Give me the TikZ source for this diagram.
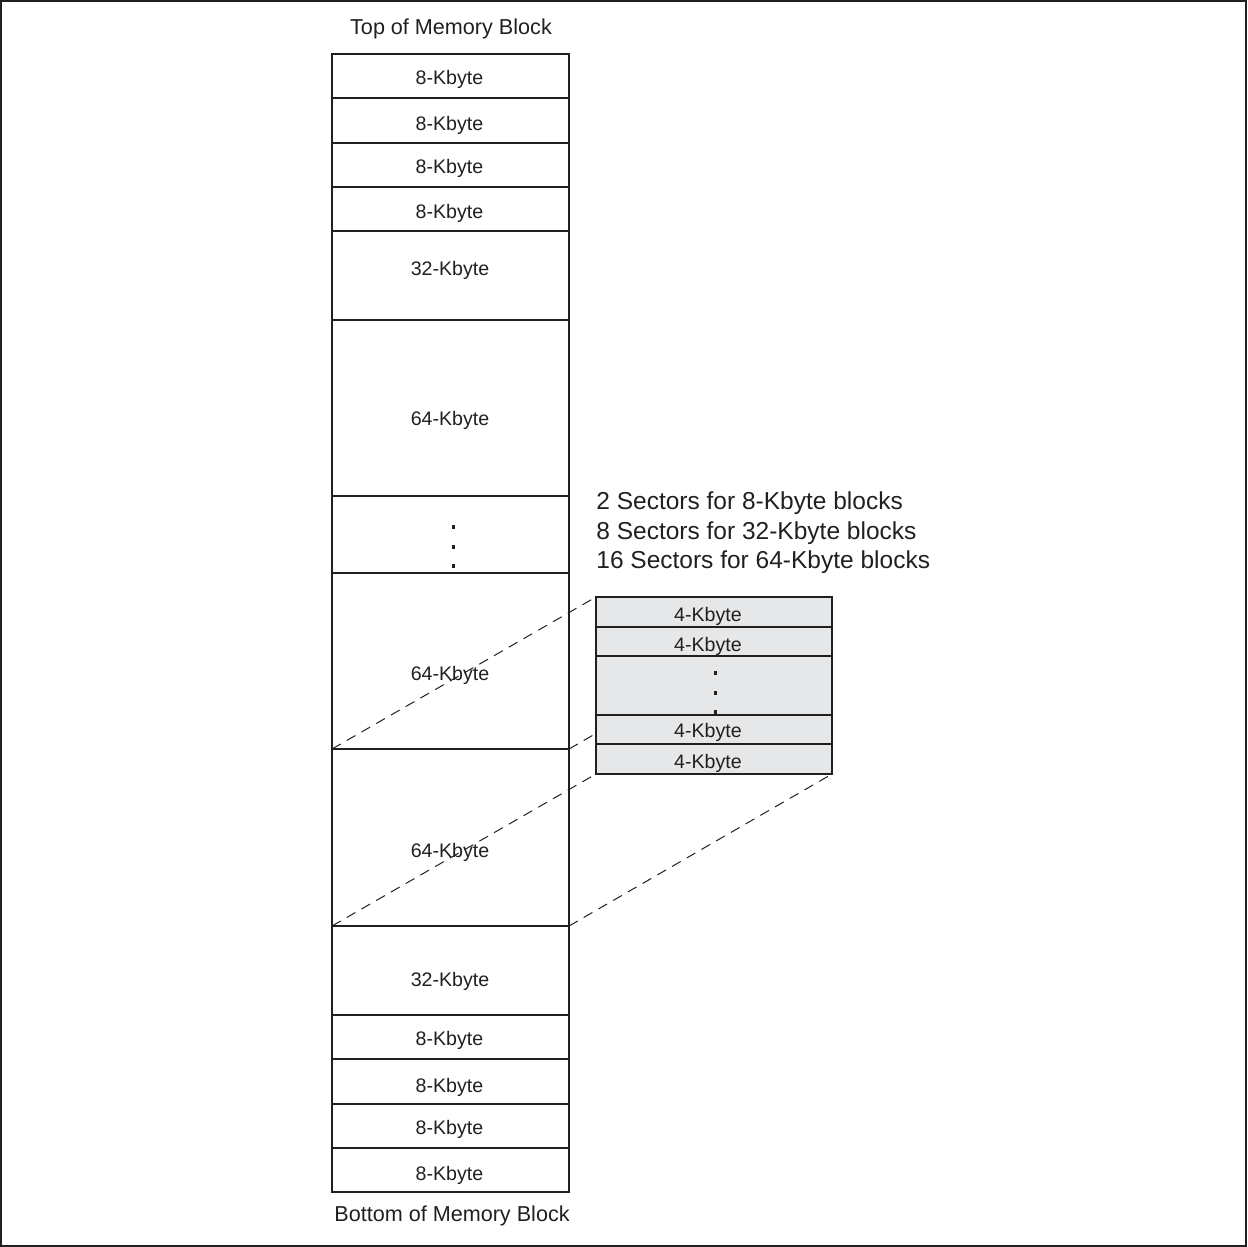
\documentclass[tikz,border=0pt]{standalone}
\usepackage{fontspec}
\setmainfont{Liberation Sans}
\definecolor{ink}{RGB}{35,31,32}
\definecolor{sectgray}{RGB}{230,231,232}
\tikzset{
  blk/.style={draw=ink, line width=0.9pt},
  sect/.style={draw=ink, line width=0.9pt, fill=sectgray},
  lbl/.style={inner sep=0pt, text=ink, font=\fontsize{9.8pt}{11pt}\selectfont, anchor=center, yshift=-1pt},
  captxt/.style={inner sep=0pt, text=ink, font=\fontsize{10.8pt}{13pt}\selectfont, anchor=center, yshift=-1pt},
  legend/.style={inner sep=0pt, text=ink, font=\fontsize{12.25pt}{14pt}\selectfont, anchor=west, yshift=-1pt},
  proj/.style={draw=ink, line width=0.5pt, dash pattern=on 5pt off 3.5pt},
  dotmark/.style={fill=ink}
}
\begin{document}
\begin{tikzpicture}[x=0.5pt, y=-0.5pt]
\useasboundingbox (0,0) rectangle (1247,1247);
\draw[ink, line width=1pt] (1,1) rectangle (1246,1246);

% corner coordinates of the zoomed 64-Kbyte block and of the sector box
\coordinate (bTL) at (332,749);
\coordinate (bTR) at (569,749);
\coordinate (bBL) at (332,926);
\coordinate (bBR) at (569,926);
\coordinate (sTL) at (596,597);
\coordinate (sTR) at (832,597);
\coordinate (sBL) at (596,774);
\coordinate (sBR) at (832,774);

% main column
\foreach \ya/\yb in {54/98,98/143,143/187,187/231,231/320,320/496,496/573,573/749,749/926,926/1015,1015/1059,1059/1104,1104/1148,1148/1192}
  \draw[blk] (332,\ya) rectangle (569,\yb);

% projection lines
\draw[proj] (bTL) -- (sTL);
\draw[proj] (bTR) -- (sTR);
\draw[proj] (bBL) -- (sBL);
\draw[proj] (bBR) -- (sBR);

% sector box
\foreach \ya/\yb in {597/627,627/656,656/715,715/744,744/774}
  \draw[sect] (596,\ya) rectangle (832,\yb);

% captions
\node[captxt] (top) at (451,27) {Top of Memory Block};
\node[captxt] (bot) at (452,1214) {Bottom of Memory Block};

% column labels
\node[lbl] (k1) at (449.5,77) {8-Kbyte};
\node[lbl] (k2) at (449.5,123) {8-Kbyte};
\node[lbl] (k3) at (449.5,166) {8-Kbyte};
\node[lbl] (k4) at (449.5,211) {8-Kbyte};
\node[lbl] (k5) at (450,268) {32-Kbyte};
\node[lbl] (k6) at (450,418) {64-Kbyte};
\node[lbl] (k7) at (450,673) {64-Kbyte};
\node[lbl] (k8) at (450,850) {64-Kbyte};
\node[lbl] (k9) at (450,979) {32-Kbyte};
\node[lbl] (k10) at (449.5,1038) {8-Kbyte};
\node[lbl] (k11) at (449.5,1085) {8-Kbyte};
\node[lbl] (k12) at (449.5,1127) {8-Kbyte};
\node[lbl] (k13) at (449.5,1173) {8-Kbyte};

% dots in column
\foreach \yy in {527,547,566}
  \fill[dotmark] (451.5,\yy-2) rectangle (454.5,\yy+2);

% sector labels
\node[lbl] (s1) at (708,614) {4-Kbyte};
\node[lbl] (s2) at (708,644) {4-Kbyte};
\node[lbl] (s3) at (708,730) {4-Kbyte};
\node[lbl] (s4) at (708,761) {4-Kbyte};
\foreach \yy in {673,693,712}
  \fill[dotmark] (713.5,\yy-2) rectangle (716.5,\yy+2);

% legend
\node[legend] (l1) at (596,501) {2 Sectors for 8-Kbyte blocks};
\node[legend] (l2) at (596,531) {8 Sectors for 32-Kbyte blocks};
\node[legend] (l3) at (596,560) {16 Sectors for 64-Kbyte blocks};
\end{tikzpicture}
\end{document}
